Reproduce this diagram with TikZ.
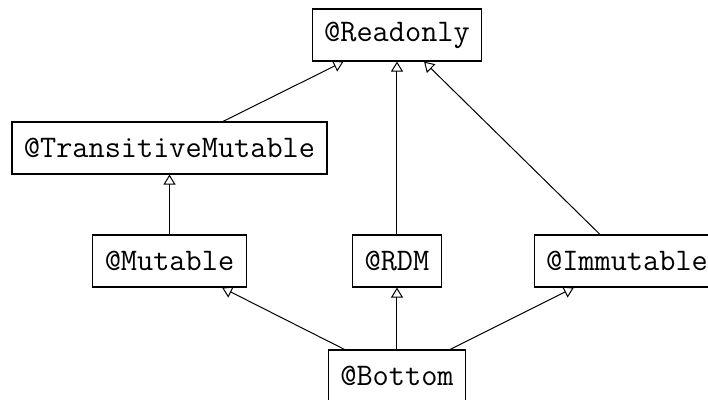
\documentclass[tikz,border=0pt]{standalone}
\usetikzlibrary{positioning,arrows.meta}
\tikzset{type node/.style={draw,rectangle,line width=0.6pt,minimum height=26pt,inner xsep=6pt,font=\fontsize{15.7}{18}\selectfont\ttfamily},
}

\begin{document}
\begin{tikzpicture}[node distance=56.5pt and 113.75pt, on grid]
				\useasboundingbox (-198.5pt,-182.5pt) rectangle (155.5pt,17.5pt);
				\clip (-198.5pt,-182.5pt) rectangle (155.5pt,17.5pt);
				\node[type node] (R) {@Readonly};
				\node[type node] (TM) [below left=of R] {@TransitiveMutable};
				\node[type node] (M) [below=of TM] {@Mutable};
				\node[type node] (RDM) [below=113pt of R] {@RDM};
				\node[type node] (I) [right=115pt of RDM] {@Immutable};
				\node[type node] (B) [below=57.5pt of RDM] {@Bottom};
				
				\path[draw,line width=0.5pt,-{Triangle[open,length=5pt,width=6pt]}]
				(TM) edge (R)
				(RDM) edge (R)
				(I) edge (R)
				(M) edge (TM)
				(B) edge (M)
				(B) edge (RDM)
				(B) edge (I);
				
			\end{tikzpicture}
\end{document}
